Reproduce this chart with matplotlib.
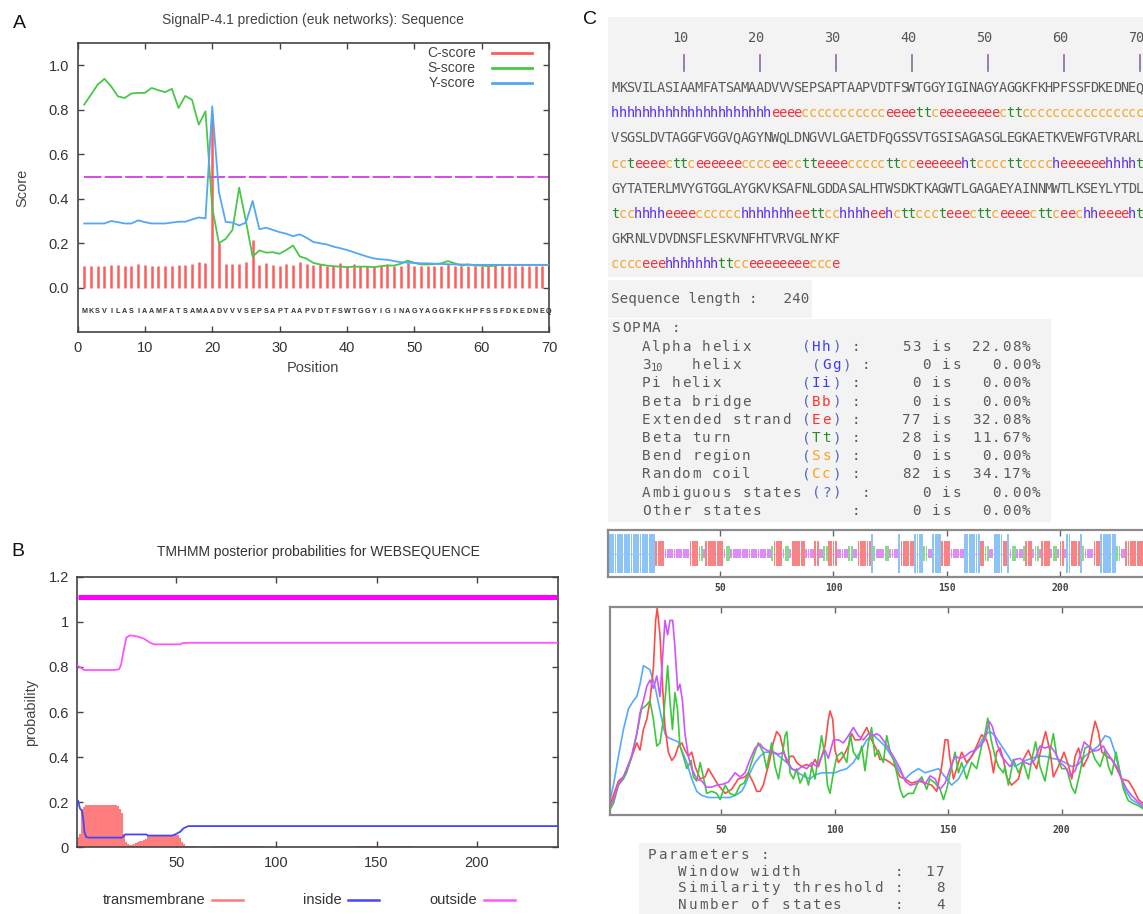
import numpy as np
import matplotlib
matplotlib.use("Agg")
import matplotlib.pyplot as plt
from matplotlib.patches import Rectangle

W, H = 1143, 914
SANS = ["Liberation Sans", "DejaVu Sans"]
MONO = "DejaVu Sans Mono"
plt.rcParams["font.family"] = SANS

# ================= Panel A : SignalP =================
a_title = "SignalP-4.1 prediction (euk networks): Sequence"
a_sequence = "MKSVILASIAAMFATSAMAADVVVSEPSAPTAAPVDTFSWTGGYIGINAGYAGGKFKHPFSSFDKEDNEQ"
a_positions = list(range(1, 71))
a_c_score = [0.100, 0.100, 0.100, 0.098, 0.104, 0.103, 0.098, 0.098, 0.105, 0.103,
             0.098, 0.098, 0.100, 0.100, 0.103, 0.103, 0.105, 0.118, 0.112, 0.780,
             0.200, 0.105, 0.108, 0.105, 0.118, 0.217, 0.103, 0.110, 0.103, 0.098,
             0.105, 0.103, 0.114, 0.108, 0.103, 0.105, 0.100, 0.100, 0.110, 0.100,
             0.105, 0.100, 0.100, 0.100, 0.100, 0.105, 0.100, 0.100, 0.110, 0.100,
             0.100, 0.100, 0.100, 0.100, 0.105, 0.100, 0.100, 0.100, 0.100, 0.100,
             0.100, 0.105, 0.100, 0.100, 0.100, 0.100, 0.100, 0.100, 0.100, 0.100]
a_s_score = [0.823, 0.868, 0.913, 0.939, 0.905, 0.860, 0.853, 0.873, 0.876, 0.876,
             0.898, 0.888, 0.879, 0.894, 0.808, 0.862, 0.845, 0.733, 0.793, 0.360,
             0.200, 0.220, 0.260, 0.450, 0.300, 0.140, 0.168, 0.158, 0.160, 0.153,
             0.170, 0.190, 0.141, 0.131, 0.112, 0.105, 0.100, 0.097, 0.095, 0.093,
             0.095, 0.095, 0.095, 0.093, 0.097, 0.100, 0.100, 0.108, 0.122, 0.112,
             0.105, 0.105, 0.107, 0.110, 0.120, 0.110, 0.100, 0.105, 0.100, 0.100,
             0.097, 0.100, 0.103, 0.103, 0.103, 0.103, 0.103, 0.103, 0.103, 0.103]
a_y_score = [0.289, 0.289, 0.289, 0.289, 0.300, 0.295, 0.289, 0.289, 0.303, 0.295,
             0.289, 0.289, 0.289, 0.293, 0.297, 0.297, 0.307, 0.316, 0.312, 0.815,
             0.430, 0.296, 0.293, 0.280, 0.293, 0.390, 0.263, 0.270, 0.260, 0.250,
             0.243, 0.232, 0.240, 0.225, 0.206, 0.200, 0.195, 0.185, 0.178, 0.170,
             0.160, 0.150, 0.140, 0.132, 0.128, 0.126, 0.120, 0.115, 0.113, 0.112,
             0.110, 0.110, 0.108, 0.107, 0.106, 0.105, 0.105, 0.104, 0.103, 0.103,
             0.103, 0.103, 0.103, 0.103, 0.103, 0.103, 0.103, 0.103, 0.103, 0.103]
a_threshold = 0.5
a_xticks = [0, 10, 20, 30, 40, 50, 60, 70]
a_yticks = [0.0, 0.2, 0.4, 0.6, 0.8, 1.0]
a_legend = ["C-score", "S-score", "Y-score"]

# ================= Panel B : TMHMM =================
b_title = "TMHMM posterior probabilities for WEBSEQUENCE"
b_outside_x = [1, 4, 18, 20, 21.5, 22.5, 23.3, 24.2, 25.1, 27, 30.5, 34, 37, 39, 52, 53, 56, 240]
b_outside_v = [0.805, 0.786, 0.786, 0.787, 0.790, 0.810, 0.850, 0.890, 0.930, 0.940,
               0.935, 0.925, 0.907, 0.900, 0.900, 0.905, 0.907, 0.907]
b_inside_x = [1, 2, 3, 3.7, 4.2, 5, 6, 23, 24.5, 35, 36, 48, 49.5, 52, 53.6, 56, 240]
b_inside_v = [0.206, 0.172, 0.162, 0.120, 0.069, 0.047, 0.043, 0.043, 0.057, 0.057,
              0.052, 0.052, 0.057, 0.069, 0.084, 0.094, 0.094]
# transmembrane posterior read as runs: (first residue, last residue, value)
b_tm_runs = [(1, 1, 0.045), (2, 2, 0.06), (3, 3, 0.17), (4, 4, 0.18), (5, 20, 0.186),
             (21, 21, 0.182), (22, 22, 0.17), (23, 23, 0.15), (24, 24, 0.06), (25, 25, 0.022),
             (26, 26, 0.015), (27, 27, 0.010), (28, 28, 0.012), (29, 29, 0.016), (30, 30, 0.020),
             (31, 31, 0.024), (32, 32, 0.027), (33, 33, 0.030), (34, 34, 0.033), (35, 35, 0.037),
             (36, 36, 0.050), (37, 51, 0.055), (52, 52, 0.040), (53, 53, 0.025), (54, 54, 0.013),
             (55, 60, 0.006), (69, 94, 0.005), (140, 167, 0.005)]
b_topology_level = 1.11
b_seq_len = 240
b_xticks = [50, 100, 150, 200]
b_yticks = [0, 0.2, 0.4, 0.6, 0.8, 1.0, 1.2]
b_yticklabels = ["0", "0.2", "0.4", "0.6", "0.8", "1", "1.2"]
b_legend = ["transmembrane", "inside", "outside"]

# ================= Panel C : SOPMA =================
c_seq_lines = ["MKSVILASIAAMFATSAMAADVVVSEPSAPTAAPVDTFSWTGGYIGINAGYAGGKFKHPFSSFDKEDNEQ",
               "VSGSLDVTAGGFVGGVQAGYNWQLDNGVVLGAETDFQGSSVTGSISAGASGLEGKAETKVEWFGTVRARL",
               "GYTATERLMVYGTGGLAYGKVKSAFNLGDDASALHTWSDKTKAGWTLGAGAEYAINNMWTLKSEYLYTDL",
               "GKRNLVDVDNSFLESKVNFHTVRVGLNYKF"]
c_struct_pieces = [
    ["hhhhhhhhhh", "hhhhhhhhhh", "h", "eeee", "ccccccccccc", "eeee", "tt", "c", "eeeeeeee",
     "c", "tt", "cccccccccccccccc"],
    ["cc", "t", "eeee", "c", "tt", "c", "eeeeee", "cccc", "ee", "cc", "tt", "eeee", "ccccc",
     "tt", "cc", "eeeeee", "h", "t", "cccc", "tt", "cccc", "h", "eeeeee", "hhhh", "t"],
    ["t", "cc", "hhhh", "eeee", "cccccc", "hhhhhhh", "ee", "tt", "cc", "hhhh", "ee", "h", "c",
     "tt", "ccc", "t", "eee", "c", "tt", "c", "eeee", "c", "tt", "c", "ee", "c", "hh", "eeee",
     "h", "t"],
    ["cccc", "eee", "hhhhhhh", "tt", "cc", "eeeeeeee", "ccc", "e"],
]
c_ruler = [10, 20, 30, 40, 50, 60, 70]
c_seq_length = 240
sopma_names = ["Alpha helix", "310  helix", "Pi helix", "Beta bridge", "Extended strand",
               "Beta turn", "Bend region", "Random coil", "Ambiguous states", "Other states"]
sopma_codes = ["(Hh)", "(Gg)", "(Ii)", "(Bb)", "(Ee)", "(Tt)", "(Ss)", "(Cc)", "(?)", ""]
sopma_counts = [53, 0, 0, 0, 77, 28, 0, 82, 0, 0]
sopma_pcts = ["22.08%", "0.00%", "0.00%", "0.00%", "32.08%", "11.67%", "0.00%", "34.17%",
              "0.00%", "0.00%"]
param_names = ["Window width", "Similarity threshold", "Number of states"]
param_values = [17, 8, 4]
c_xticks = [50, 100, 150, 200]

# SOPMA state-probability curves (position, value in plot-height fraction)
sopma_blue_x = [1, 2.6, 4.8, 7, 9.2, 11.4, 12.9, 14.3, 15.8, 17.3, 18.7, 19.5, 20.9, 22.4, 23.9,
                25.3, 26.8, 29, 31.2, 32.7, 34.9, 37.1, 39.3, 41.5, 44.4, 47.4, 50.3, 54, 56.2,
                59.1, 60.6, 62.8, 65, 67.2, 69.4, 72.3, 74.5, 76.7, 79, 81.1, 84, 87, 89.2, 91.4,
                94.4, 97.3, 100.2, 102.4, 105.4, 108.3, 111.2, 114.2, 117, 119.3, 122.2, 125.2,
                128, 131, 134, 137, 139.9, 142.8, 145.8, 148.7, 151.6, 154.6, 157.5, 160.4,
                163.4, 166.3, 168.5, 170.7, 173.6, 176.6, 179.5, 181, 184, 187, 190, 193, 195.7,
                198.6, 201.5, 204.5, 207.4, 210.3, 213.3, 216.2, 219.2, 221.4, 223.5, 225.7,
                227.9, 230.8, 233.8, 236, 240]
sopma_blue_v = [0.06, 0.14, 0.28, 0.41, 0.51, 0.55, 0.57, 0.63, 0.72, 0.71, 0.70, 0.67, 0.62,
                0.54, 0.46, 0.39, 0.37, 0.36, 0.35, 0.31, 0.25, 0.17, 0.11, 0.09, 0.08, 0.08,
                0.08, 0.08, 0.09, 0.11, 0.14, 0.20, 0.25, 0.28, 0.30, 0.30, 0.29, 0.27, 0.25,
                0.22, 0.20, 0.18, 0.17, 0.19, 0.20, 0.20, 0.20, 0.21, 0.22, 0.25, 0.30, 0.36,
                0.385, 0.36, 0.33, 0.28, 0.22, 0.17, 0.20, 0.22, 0.20, 0.21, 0.22, 0.18, 0.14,
                0.17, 0.23, 0.28, 0.33, 0.385, 0.40, 0.38, 0.33, 0.28, 0.23, 0.24, 0.26, 0.27,
                0.28, 0.28, 0.27, 0.265, 0.25, 0.23, 0.24, 0.28, 0.305, 0.33, 0.38, 0.37, 0.30,
                0.20, 0.12, 0.07, 0.05, 0.03, 0.01]
sopma_red_x = [1, 2.6, 4.8, 7, 9.2, 11.4, 12.9, 14.3, 15.8, 17.3, 18.7, 20.2, 21.2, 21.9, 23.1,
               24.2, 25.3, 26.8, 28.3, 29.7, 31.2, 32.7, 34.1, 35.6, 37.1, 38.6, 40.8, 43, 44.4,
               46.6, 48.8, 51.8, 54.7, 57.6, 60.6, 62, 64.3, 65.7, 67.2, 68.6, 71.2, 73, 74.5,
               76, 77.5, 79, 80.4, 81.9, 83.3, 85.5, 87.8, 89.9, 91.4, 92.9, 94.3, 95.8, 97.3,
               98, 99.2, 100.2, 101.7, 103.9, 106.1, 107.6, 109, 111.2, 112.7, 114.2, 116.3,
               118.6, 120, 122.3, 124.5, 126.7, 128.9, 131, 134, 137, 139.9, 142.8, 145, 147.2,
               148.7, 149.9, 150.9, 152.4, 153.8, 156, 158.2, 160.4, 162.6, 164.8, 167, 168.5,
               170, 171.4, 172.9, 174.4, 175.8, 178, 181, 183.2, 185.4, 186.9, 189, 191.3, 193,
               195, 196.4, 198.6, 201.1, 203.2, 204.5, 206, 207.5, 209.6, 211.8, 213.6, 214.8,
               216.2, 217.8, 219.9, 222.1, 224.3, 226.5, 229.5, 231.7, 233.9, 236, 240]
sopma_red_v = [0.04, 0.09, 0.16, 0.18, 0.23, 0.30, 0.345, 0.31, 0.41, 0.46, 0.55, 0.71, 0.94,
               1.00, 0.87, 0.63, 0.425, 0.30, 0.26, 0.28, 0.33, 0.345, 0.31, 0.28, 0.30, 0.23,
               0.17, 0.18, 0.22, 0.18, 0.14, 0.10, 0.12, 0.17, 0.18, 0.20, 0.15, 0.11, 0.11,
               0.14, 0.25, 0.345, 0.40, 0.38, 0.31, 0.25, 0.28, 0.28, 0.25, 0.23, 0.24, 0.23,
               0.265, 0.23, 0.28, 0.33, 0.46, 0.50, 0.46, 0.31, 0.25, 0.28, 0.33, 0.39, 0.36,
               0.36, 0.39, 0.42, 0.36, 0.31, 0.265, 0.265, 0.25, 0.23, 0.18, 0.17, 0.15, 0.16,
               0.15, 0.14, 0.11, 0.23, 0.36, 0.36, 0.265, 0.17, 0.22, 0.30, 0.25, 0.28, 0.33,
               0.385, 0.36, 0.30, 0.20, 0.30, 0.32, 0.265, 0.18, 0.14, 0.17, 0.265, 0.31, 0.265,
               0.22, 0.33, 0.40, 0.30, 0.18, 0.23, 0.30, 0.23, 0.17, 0.28, 0.32, 0.23, 0.28,
               0.39, 0.45, 0.40, 0.30, 0.28, 0.265, 0.22, 0.17, 0.16, 0.12, 0.07, 0.05, 0.02]
sopma_green_x = [1, 2.6, 4.8, 7, 8.4, 10.6, 12.9, 15, 17.3, 18.7, 20.2, 21.7, 23.1, 24.6, 25.6,
                 26.5, 27.5, 28.6, 29.7, 30.8, 31.9, 33.4, 34.9, 36.8, 37.8, 39.3, 40.8, 42.2,
                 43.7, 45.9, 48.1, 49.6, 51.8, 53.9, 56.2, 58.4, 60.2, 62, 64.3, 66.4, 68.6,
                 70.1, 72.3, 73.8, 75.3, 76.7, 78.2, 79, 80.4, 81.9, 83.3, 84.8, 87, 88.5, 90,
                 91.4, 92.9, 94.3, 95.8, 96.9, 98, 99.5, 101, 103.2, 105.4, 106.9, 108.3, 110.5,
                 112, 113.4, 114.9, 116.3, 117.8, 119.3, 121.5, 123, 124.5, 125.9, 127.4, 128.9,
                 130.3, 132.5, 134.7, 136.2, 138.4, 140.6, 142, 144.3, 146.5, 148, 149.4, 151.6,
                 153.1, 154.6, 156, 158.2, 160.4, 162.6, 164.8, 166.3, 167.5, 169, 170.7, 172.2,
                 174.4, 175.1, 176.6, 178.8, 181, 183.2, 185.4, 186.9, 188.6, 190.5, 192.7, 195,
                 196.4, 197.9, 200.1, 202.3, 204.5, 206, 208.1, 210.3, 212.6, 214.8, 217, 219.2,
                 220.7, 222.1, 224, 225.8, 227.3, 229.4, 231.7, 233.9, 236, 240]
sopma_green_v = [0.02, 0.05, 0.14, 0.17, 0.20, 0.28, 0.39, 0.51, 0.53, 0.55, 0.46, 0.33, 0.345,
                 0.46, 0.59, 0.72, 0.55, 0.41, 0.59, 0.51, 0.33, 0.28, 0.22, 0.26, 0.18, 0.16,
                 0.25, 0.18, 0.10, 0.11, 0.10, 0.07, 0.14, 0.10, 0.09, 0.14, 0.15, 0.20, 0.28,
                 0.345, 0.30, 0.22, 0.345, 0.23, 0.17, 0.265, 0.38, 0.40, 0.20, 0.17, 0.22, 0.15,
                 0.20, 0.14, 0.23, 0.17, 0.28, 0.38, 0.28, 0.14, 0.10, 0.20, 0.28, 0.30, 0.25,
                 0.39, 0.30, 0.265, 0.33, 0.21, 0.345, 0.42, 0.28, 0.31, 0.25, 0.38, 0.30, 0.265,
                 0.20, 0.12, 0.08, 0.10, 0.10, 0.14, 0.18, 0.12, 0.17, 0.15, 0.12, 0.07, 0.12,
                 0.23, 0.30, 0.20, 0.25, 0.17, 0.25, 0.22, 0.33, 0.39, 0.465, 0.36, 0.28, 0.23,
                 0.20, 0.23, 0.14, 0.265, 0.20, 0.25, 0.17, 0.265, 0.35, 0.23, 0.16, 0.31, 0.39,
                 0.28, 0.22, 0.22, 0.13, 0.10, 0.20, 0.32, 0.33, 0.265, 0.23, 0.31, 0.23, 0.19,
                 0.30, 0.20, 0.12, 0.065, 0.05, 0.04, 0.025, 0.01]
sopma_violet_x = [1, 2.6, 4.8, 7, 8.4, 10.6, 12.9, 14.3, 15.8, 17.3, 18.7, 20.2, 21.7, 23.1,
                  24.2, 25.3, 26.5, 27.5, 28.7, 29.7, 30.9, 31.9, 33, 34.1, 35.6, 37.1, 39.3,
                  41.5, 43.7, 45.9, 48.1, 51, 53.2, 56.2, 58.4, 60.6, 62.8, 65, 67.2, 68.6, 71,
                  73.2, 75.3, 77.5, 79, 81.1, 83.3, 85.5, 87.8, 90, 92.2, 94.4, 95.8, 97.3, 99.5,
                  101.7, 103.9, 106.1, 108.3, 110.5, 112.7, 114.9, 117.1, 118.5, 120, 122.3,
                  124.5, 126.7, 128.9, 131.1, 133.3, 135.5, 137.7, 139.9, 142.1, 144.3, 146.5,
                  148.7, 150.9, 153.1, 155.3, 157.5, 159.7, 161.9, 164.1, 166.3, 168.1, 169.5,
                  171.4, 173.6, 175.8, 177.3, 179.5, 181.7, 183.9, 186.1, 188.3, 190.5, 192.7,
                  195, 197.1, 199.3, 201.5, 203.7, 206, 208.1, 210, 211.8, 214, 216.2, 218.4,
                  219.9, 222.1, 224.3, 226.5, 228.7, 230.9, 233.1, 236, 240]
sopma_violet_v = [0.03, 0.07, 0.145, 0.18, 0.22, 0.28, 0.39, 0.49, 0.55, 0.62, 0.65, 0.61,
                  0.67, 0.57, 0.75, 0.94, 0.87, 0.94, 0.94, 0.81, 0.60, 0.63, 0.55, 0.39, 0.28,
                  0.22, 0.17, 0.16, 0.13, 0.13, 0.14, 0.145, 0.155, 0.20, 0.18, 0.20, 0.265,
                  0.32, 0.34, 0.32, 0.305, 0.30, 0.29, 0.30, 0.265, 0.22, 0.21, 0.23, 0.22, 0.25,
                  0.23, 0.28, 0.31, 0.27, 0.36, 0.36, 0.345, 0.38, 0.42, 0.38, 0.36, 0.39, 0.38,
                  0.39, 0.38, 0.345, 0.305, 0.265, 0.22, 0.16, 0.14, 0.145, 0.17, 0.145, 0.185,
                  0.17, 0.12, 0.15, 0.22, 0.28, 0.27, 0.28, 0.30, 0.31, 0.33, 0.36, 0.45, 0.425,
                  0.345, 0.28, 0.25, 0.23, 0.265, 0.27, 0.25, 0.24, 0.265, 0.33, 0.32, 0.33, 0.30,
                  0.25, 0.23, 0.185, 0.21, 0.28, 0.35, 0.33, 0.305, 0.31, 0.33, 0.30, 0.265, 0.23,
                  0.17, 0.12, 0.09, 0.065, 0.04, 0.02]

# ================= styling =================
SEQ_GRAY = "#5a5a5a"
STATE_TEXT = {"h": "#5a30f0", "e": "#f0303a", "c": "#f7a628", "t": "#2a8a2a"}
STATE_BAR = {"h": ("#8cc4f7", 0.84), "e": ("#f78484", 0.52),
             "t": ("#86dc86", 0.34), "c": ("#dc8ef6", 0.19)}
CODE_COL = {"H": "#3a3aff", "G": "#3a3aff", "I": "#3a3aff", "B": "#ff3030", "E": "#ff3030",
            "T": "#2a8a2a", "S": "#ffa020", "C": "#ffa020"}

fig = plt.figure(figsize=(W / 100, H / 100), dpi=100)


def px_axes(l, t, r, b, **kw):
    return fig.add_axes([l / W, 1 - b / H, (r - l) / W, (b - t) / H], **kw)


def style_frame(ax, col="#444444", lw=1.2):
    for s in ax.spines.values():
        s.set_color(col)
        s.set_linewidth(lw)


# ---------- Panel A ----------
axA = px_axes(77.5, 43, 549, 332.3)
axA.vlines(a_positions, 0, a_c_score, color="#ff5c5c", lw=1.8, zorder=2)
axA.plot([a_positions[0], a_positions[-1]], [a_threshold, a_threshold], color="#d64ae6",
         lw=1.4, dashes=(9, 1.6), zorder=2)
axA.plot(a_positions, a_s_score, color="#48c848", lw=1.3, zorder=3)
axA.plot(a_positions, a_y_score, color="#52a8f5", lw=1.3, zorder=4)
for p, ch in zip(a_positions, a_sequence):
    axA.text(p, -0.105, ch, ha="center", va="center", fontsize=5.2, fontweight="bold",
             color="#333333", family=SANS)
axA.set_xlim(0, 70)
axA.set_ylim(-0.2, 1.1)
axA.set_xticks(a_xticks)
axA.set_yticks(a_yticks)
axA.set_yticklabels([f"{v:.1f}" for v in a_yticks])
axA.tick_params(direction="in", top=True, right=True, length=4, width=1, labelsize=10.5,
                labelcolor="#333333", pad=6, color="#444444")
style_frame(axA)

# ---------- Panel B ----------
axB = px_axes(77, 576.7, 558, 847.3)
tm_x, tm_v = [], []
for r0, r1, v in b_tm_runs:
    for r in range(r0, r1 + 1):
        tm_x.append(r)
        tm_v.append(v)
axB.vlines(tm_x, 0, tm_v, color="#ff7a7a", lw=1.4, zorder=2)
axB.plot(b_outside_x, b_outside_v, color="#ff55ff", lw=1.3, zorder=3)
axB.plot(b_inside_x, b_inside_v, color="#4545ff", lw=1.3, zorder=3)
axB.plot([1, b_seq_len], [b_topology_level, b_topology_level], color="#ff00ff", lw=3.6,
         solid_capstyle="butt", zorder=3)
axB.set_xlim(0.5, 240.5)
axB.set_ylim(0, 1.2)
axB.set_xticks(b_xticks)
axB.set_yticks(b_yticks)
axB.set_yticklabels(b_yticklabels)
axB.tick_params(direction="in", top=True, right=True, length=4, width=1, labelsize=10.5,
                labelcolor="#333333", pad=6, color="#444444")
style_frame(axB)

# ---------- Panel C : structure strip ----------
c_struct = ["".join(p) for p in c_struct_pieces]
struct_all = "".join(c_struct)
axS = px_axes(607.6, 530, 1160, 577)
xs = np.arange(1, len(struct_all) + 1)
cols = [STATE_BAR[s][0] for s in struct_all]
hts = [STATE_BAR[s][1] for s in struct_all]
axS.axhline(0.5, color="#f0b0f0", lw=0.8, zorder=1)
axS.bar(xs, hts, bottom=[0.5 - h / 2 for h in hts], width=0.82, color=cols, lw=0, zorder=2)
axS.set_xlim(0.5, 0.5 + (1160 - 607.6) / 2.27)
axS.set_ylim(0, 1)
axS.set_yticks([])
axS.set_xticks(c_xticks)
axS.tick_params(direction="in", top=True, length=4, width=1, color="#666666", pad=4,
                labelsize=7)
for lab in axS.get_xticklabels():
    lab.set_family(MONO)
    lab.set_fontweight("bold")
    lab.set_color("#444444")
style_frame(axS, "#8a8a8a", 1.6)

# ---------- Panel C : probability curves ----------
axP = px_axes(609.8, 607, 1160, 815)
axP.plot(sopma_blue_x, sopma_blue_v, color="#55aaff", lw=1.2)
axP.plot(sopma_red_x, sopma_red_v, color="#ff4a4a", lw=1.2)
axP.plot(sopma_green_x, sopma_green_v, color="#3cc83c", lw=1.2)
axP.plot(sopma_violet_x, sopma_violet_v, color="#cc55ff", lw=1.2)
axP.set_xlim(1, 1 + (1160 - 609.8) / 2.27)
axP.set_ylim(-0.005, 1.005)
axP.set_yticks([])
axP.set_xticks(c_xticks)
axP.tick_params(direction="in", top=True, length=4, width=1, color="#666666", pad=7,
                labelsize=7)
for lab in axP.get_xticklabels():
    lab.set_family(MONO)
    lab.set_fontweight("bold")
    lab.set_color("#444444")
style_frame(axP, "#8a8a8a", 1.6)

# ---------- overlay for free text ----------
ov = fig.add_axes([0, 0, 1, 1], zorder=10)
ov.set_xlim(0, W)
ov.set_ylim(H, 0)
ov.axis("off")

# panel letters
for lab, x, y in [("A", 19, 24), ("B", 18, 552), ("C", 590, 20)]:
    ov.text(x, y, lab, fontsize=14, ha="center", va="center", color="#111111")

# panel A texts
ov.text(313, 20, a_title, fontsize=10, ha="center", va="center", color="#444444")
ov.text(22, 188, "Score", fontsize=10.5, rotation=90, ha="center", va="center", color="#444444")
ov.text(313, 368, "Position", fontsize=10.5, ha="center", va="center", color="#444444")
for i, (lab, col) in enumerate(zip(a_legend, ["#ff5c5c", "#48c848", "#52a8f5"])):
    y = 52.7 + 15 * i
    ov.text(475.5, y, lab, fontsize=10, ha="right", va="center", color="#444444")
    ov.plot([491.5, 531.5], [y, y], color=col, lw=2)

# panel B texts
ov.text(318, 552, b_title, fontsize=10, ha="center", va="center", color="#333333")
ov.text(31, 712, "probability", fontsize=10.5, rotation=90, ha="center", va="center",
        color="#444444")
for lab, xr, x0, col in zip(b_legend, [205, 342, 477], [212, 348, 483.5],
                            ["#ff7a7a", "#4545ff", "#ff55ff"]):
    ov.text(xr, 900, lab, fontsize=10.5, ha="right", va="center", color="#333333")
    ov.plot([x0, x0 + 31], [900, 900], color=col, lw=1.8)

# panel C boxes
for (l, t, r, b) in [(608, 17, 1143, 277), (608, 280, 812, 318), (608, 319, 1051, 522),
                     (639, 843, 961, 914)]:
    ov.add_patch(Rectangle((l, t), r - l, b - t, fc="#f3f3f3", ec="none", zorder=0))


def mono_row(x0, y, s, pitch, size, colors=None, default=SEQ_GRAY, weight="normal"):
    for i, ch in enumerate(s):
        if ch == " ":
            continue
        col = colors[i] if colors is not None else default
        ov.text(x0 + (i + 0.5) * pitch, y, ch, ha="center", va="center", fontsize=size,
                family=MONO, color=col, fontweight=weight, zorder=3)


SEQ_X0, SEQ_P = 611.4, 7.6
# ruler
for n in c_ruler:
    lab = str(n)
    for k, ch in enumerate(lab):
        col_idx = n - len(lab) + k
        ov.text(SEQ_X0 + (col_idx + 0.5) * SEQ_P, 38, ch, ha="center", va="center",
                fontsize=9.8, family=MONO, color="#555555", zorder=3)
    xc = SEQ_X0 + (n - 0.5) * SEQ_P
    ov.plot([xc, xc], [55, 71], color="#8a6a9a", lw=1.2, zorder=3)

seq_y = [88, 138, 189, 239]
str_y = [113, 164, 214, 264]
for sq, st, ys, yt in zip(c_seq_lines, c_struct, seq_y, str_y):
    mono_row(SEQ_X0, ys, sq, SEQ_P, 9.8)
    mono_row(SEQ_X0, yt, st, SEQ_P, 9.8, colors=[STATE_TEXT[c] for c in st])

# sequence length line (single string; font size set so advance matches the pitch)
ov.text(611.4, 299, f"Sequence length :   {c_seq_length}", ha="left", va="center",
        fontsize=10.3, family=MONO, color=SEQ_GRAY, zorder=3)

# SOPMA table
TP, TX0 = 10.0, 611.4
TS = 10.3
mono_row(TX0, 328, "SOPMA :", TP, TS)
row_y0, row_dy = 347, 18.2
for i, (nm, cd, cnt, pct) in enumerate(zip(sopma_names, sopma_codes, sopma_counts, sopma_pcts)):
    shift = 1 if (nm.startswith("310") or nm.startswith("Ambiguous")) else 0
    buf = [" "] * 46
    colors = [SEQ_GRAY] * 46

    def put(col, text, color=None):
        for k, ch in enumerate(text):
            buf[col + k] = ch
            if color is not None:
                colors[col + k] = color

    put(3, nm)
    if cd:
        put(19 + shift, cd, "#5068b8")
        for k, ch in enumerate(cd):
            if ch.upper() in CODE_COL:
                colors[19 + shift + k] = CODE_COL[ch.upper()]
    put(24 + shift, ":")
    cs = str(cnt)
    put(31 + shift - len(cs), cs)
    put(32 + shift, "is")
    put(42 + shift - len(pct), pct)
    y = row_y0 + i * row_dy
    if nm.startswith("310"):
        # 3 with subscript 10
        buf[4] = buf[5] = " "
        ov.text(TX0 + 4.0 * TP - 1, y + 3, "10", ha="left", va="center", fontsize=7.5,
                family=MONO, color=SEQ_GRAY, zorder=3)
    mono_row(TX0, y, "".join(buf), TP, TS, colors=colors)

# parameters
PX0, PP = 646.7, 10.3
mono_row(PX0, 855, "Parameters :", PP, TS)
for i, (nm, val) in enumerate(zip(param_names, param_values)):
    buf = [" "] * 30
    for k, ch in enumerate("   " + nm):
        buf[k] = ch
    buf[24] = ":"
    vs = str(val)
    for k, ch in enumerate(vs):
        buf[29 - len(vs) + k] = ch
    mono_row(PX0, 871.7 + i * 16.7, "".join(buf), PP, TS)

fig.savefig("out.png", dpi=100)
